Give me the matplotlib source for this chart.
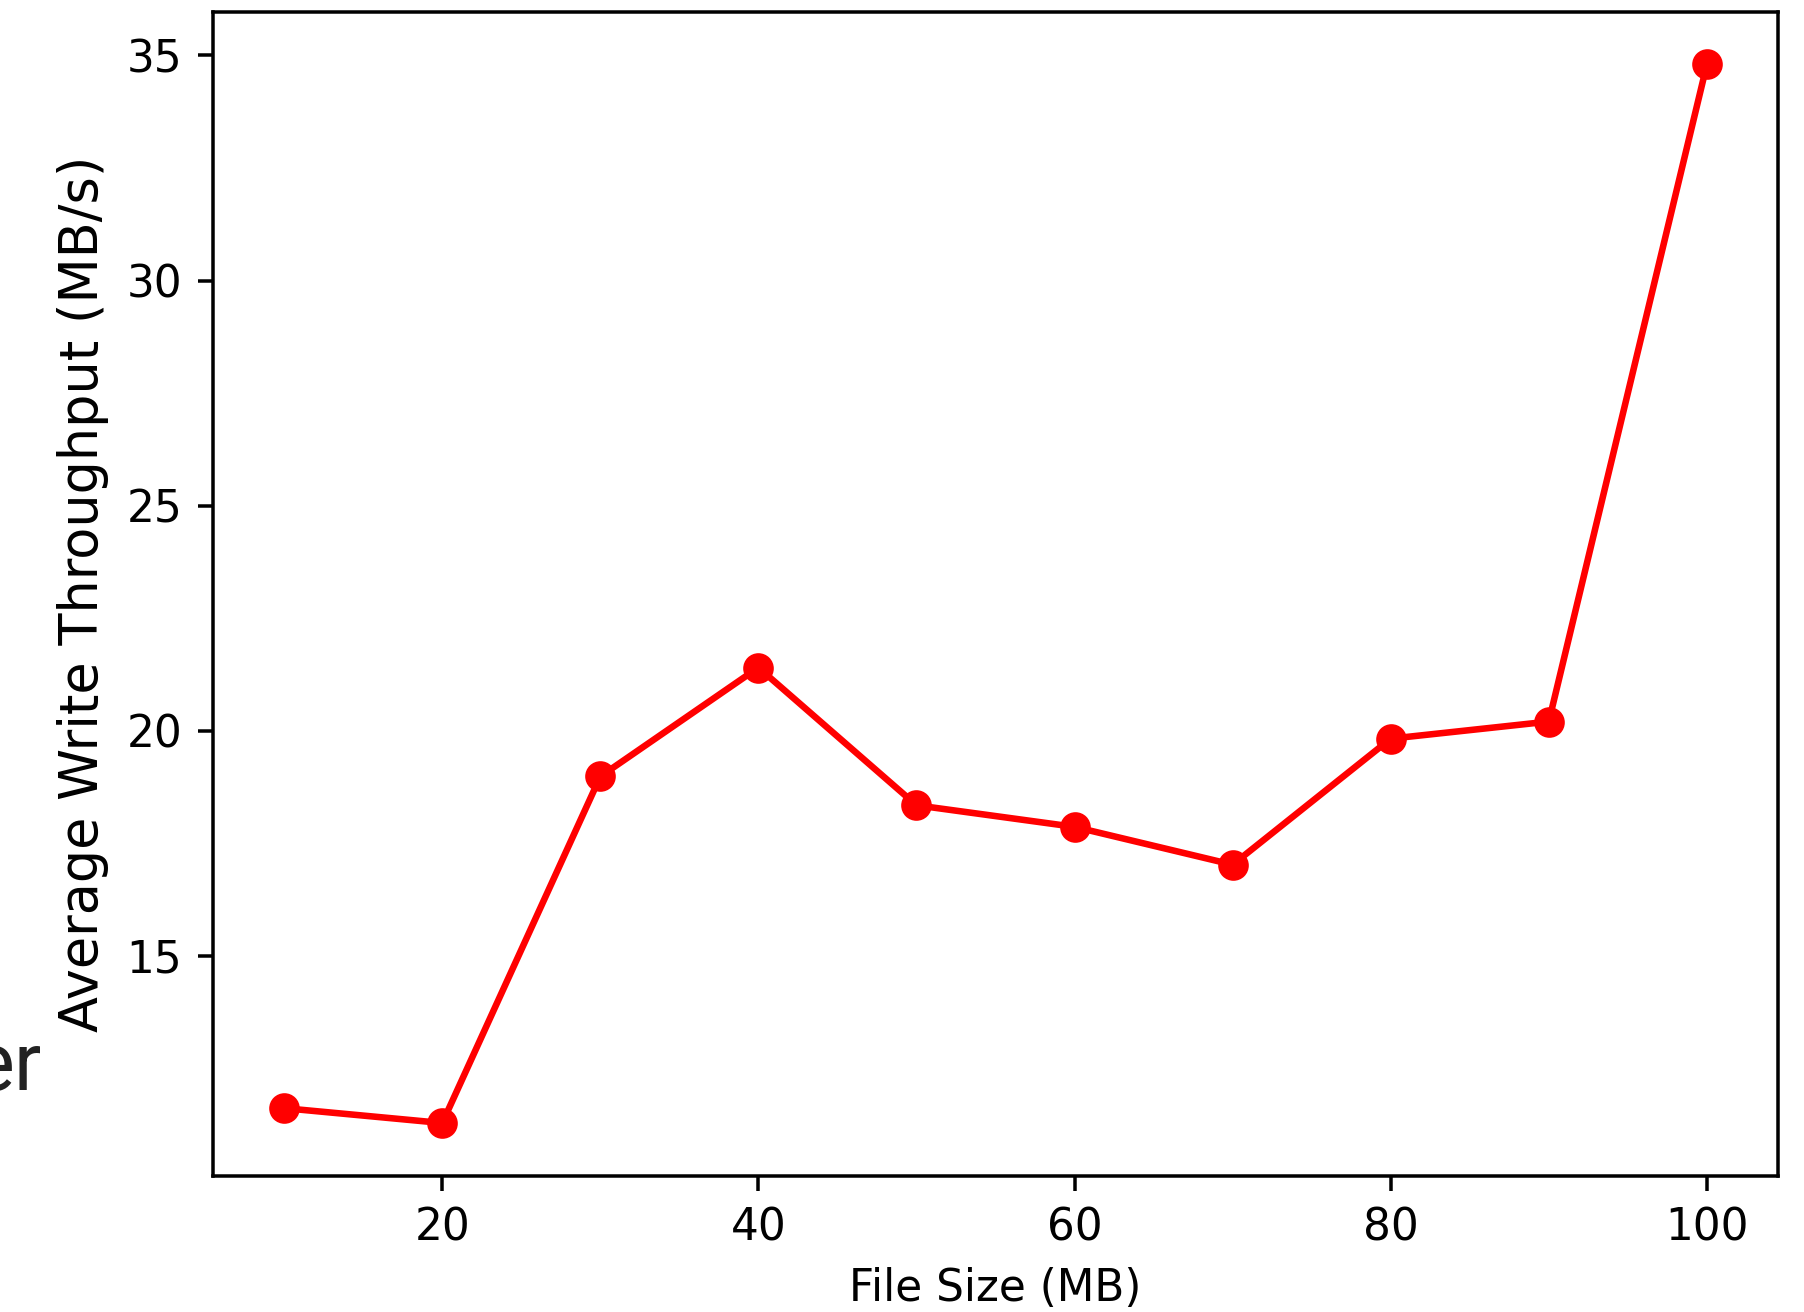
import matplotlib
matplotlib.use("Agg")
import matplotlib.pyplot as plt

# file sizes (MB) and measured average write throughput (MB/s)
file_sizes = [10, 20, 30, 40, 50, 60, 70, 80, 90, 100]
throughput = [11.61, 11.28, 18.98, 21.40, 18.34, 17.86, 17.02, 19.82, 20.20, 34.80]

DPI = 315
fig = plt.figure(figsize=(1804 / DPI, 1312 / DPI), dpi=DPI)
ax = fig.add_axes([0.1181, 0.1037, 0.9856 - 0.1181, 0.9912 - 0.1037])

ax.plot(file_sizes, throughput, marker='o', color='red')
ax.set_xlabel('File Size (MB)')
ax.set_ylabel('Average Write Throughput (MB/s)', fontsize=12)

# leftover piece of text at the left edge of the screenshot
fig.text(42 / 1804, 1 - 1090 / 1312, 'er', ha='right', va='baseline',
         fontsize=18.5, family=['Roboto', 'DejaVu Sans'], color='#222222')

plt.savefig('out.png', dpi=DPI)
